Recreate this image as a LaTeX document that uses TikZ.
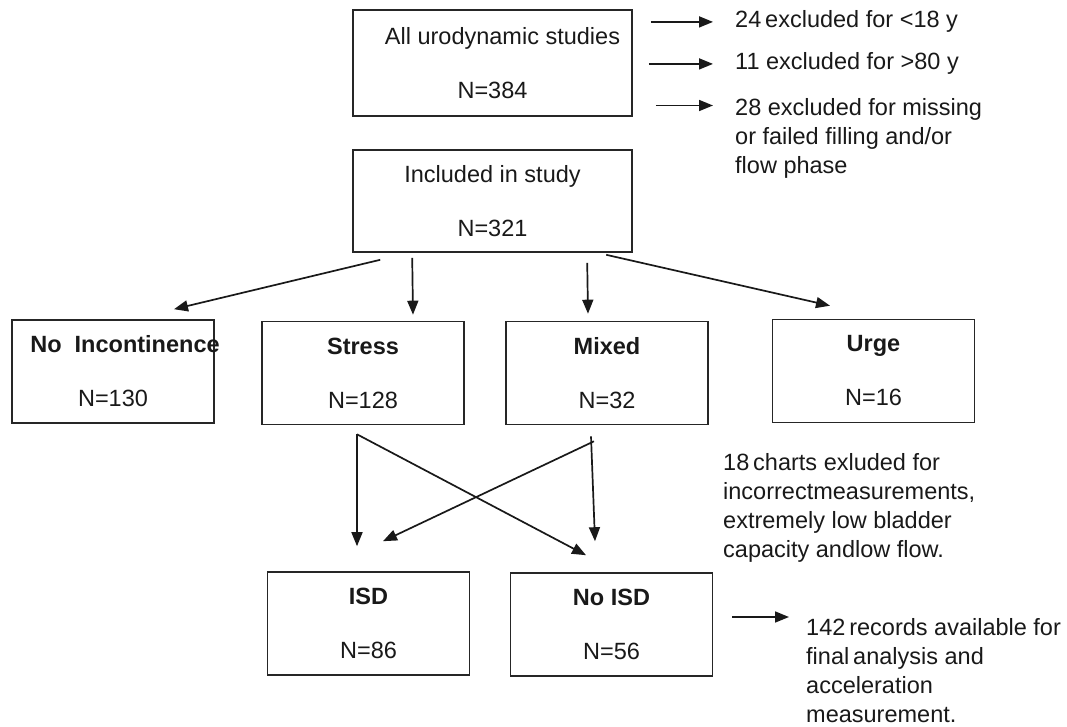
\documentclass[tikz,border=0pt]{standalone}
\usepackage{fontspec}
\setmainfont{Liberation Sans}
\usetikzlibrary{arrows.meta,calc}
\begin{document}
\begin{tikzpicture}[x=1pt,y=-1pt,
  box/.style={draw=black!85, line width=1.6pt, minimum width=202pt, minimum height=103pt,
    inner sep=0pt, align=center, font=\fontsize{23.5}{54}\selectfont, text=black!90},
  note/.style={inner sep=0pt, align=left, font=\fontsize{23.5}{29}\selectfont, text=black!90},
  arr/.style={draw=black!90, line width=1.7pt, -{Triangle[length=14pt,width=11pt]}}]
\useasboundingbox (0,0) rectangle (1067,727);

% boxes
\node[box, minimum width=279pt, minimum height=106pt] (all) at (492.5,63)
  {\hspace*{20pt}All urodynamic studies\\N=384};
\node[box, minimum width=279pt, minimum height=102pt] (incl) at (492.5,201)
  {Included in study\\N=321};
\node[box] (noinc) at (113,371.5)
  {\makebox[0pt]{\hspace{24pt}\textbf{No\ \ Incontinence}}\\N=130};
\node[box] (stress) at (363,373) {\textbf{Stress}\\N=128};
\node[box] (mixed) at (607,373) {\textbf{Mixed}\\N=32};
\node[box] (urge) at (873.5,371) {\textbf{Urge}\\N=16};
\node[box] (isd) at (368.5,623.5) {\textbf{ISD}\\N=86};
\node[box] (noisd) at (611.5,624.5) {\textbf{No ISD}\\N=56};

% side notes
\node[note, anchor=base west] (ex1) at (735,28) {24\,excluded for <18 y};
\node[note, anchor=base west] (ex2) at (735,70) {11 excluded for >80 y};
\node[note, anchor=north west] (ex3) at (735,98.5)
  {28 excluded for missing\\or failed filling and/or\\flow phase};
\node[note, anchor=north west] (ch) at (723,453.5)
  {18\,charts exluded for\\incorrectmeasurements,\\extremely low bladder\\capacity andlow flow.};
\node[note, anchor=north west] (rec) at (806,618.5)
  {142\,records available for\\final\,analysis and\\acceleration\\measurement.};

% exclusion arrows
\draw[arr] ($(all.east |- ex1.west)+(18,0)$) -- ($(ex1.west)+(-22,0)$);
\draw[arr] ($(all.east |- ex2.west)+(16,0)$) -- ($(ex2.west)+(-22,0)$);
\draw[arr] ($(all.east |- ex3.north west)+(23,7)$) -- ($(ex3.north west)+(-22,7)$);
\draw[arr] ($(noisd.east |- rec.north west)+(19,-1.5)$) -- ($(rec.north west)+(-17,-1.5)$);

% included -> categories
\draw[arr] ($(incl.south west)+(28,7)$) -- ($(noinc.north)+(61,-10)$);
\draw[arr] ($(incl.south west)+(60,5)$) -- ($(stress.north)+(50,-6)$);
\draw[arr] ($(incl.south west)+(235,10)$) -- ($(mixed.north)+(-19,-7)$);
\draw[arr] ($(incl.south west)+(254,2)$) -- ($(urge.north)+(-43.5,-13)$);

% stress / mixed -> ISD / No ISD
\draw[arr] ($(stress.south)+(-6,9)$) -- ($(isd.north)+(-11.5,-25)$);
\draw[arr] ($(stress.south)+(-6,9)$) -- ($(noisd.north)+(-25.5,-17)$);
\draw[arr] ($(mixed.south)+(-13,16)$) -- ($(isd.north)+(14.5,-30)$);
\draw[arr] ($(mixed.south)+(-16,11)$) -- ($(noisd.north)+(-16.5,-31)$);
\end{tikzpicture}
\end{document}
